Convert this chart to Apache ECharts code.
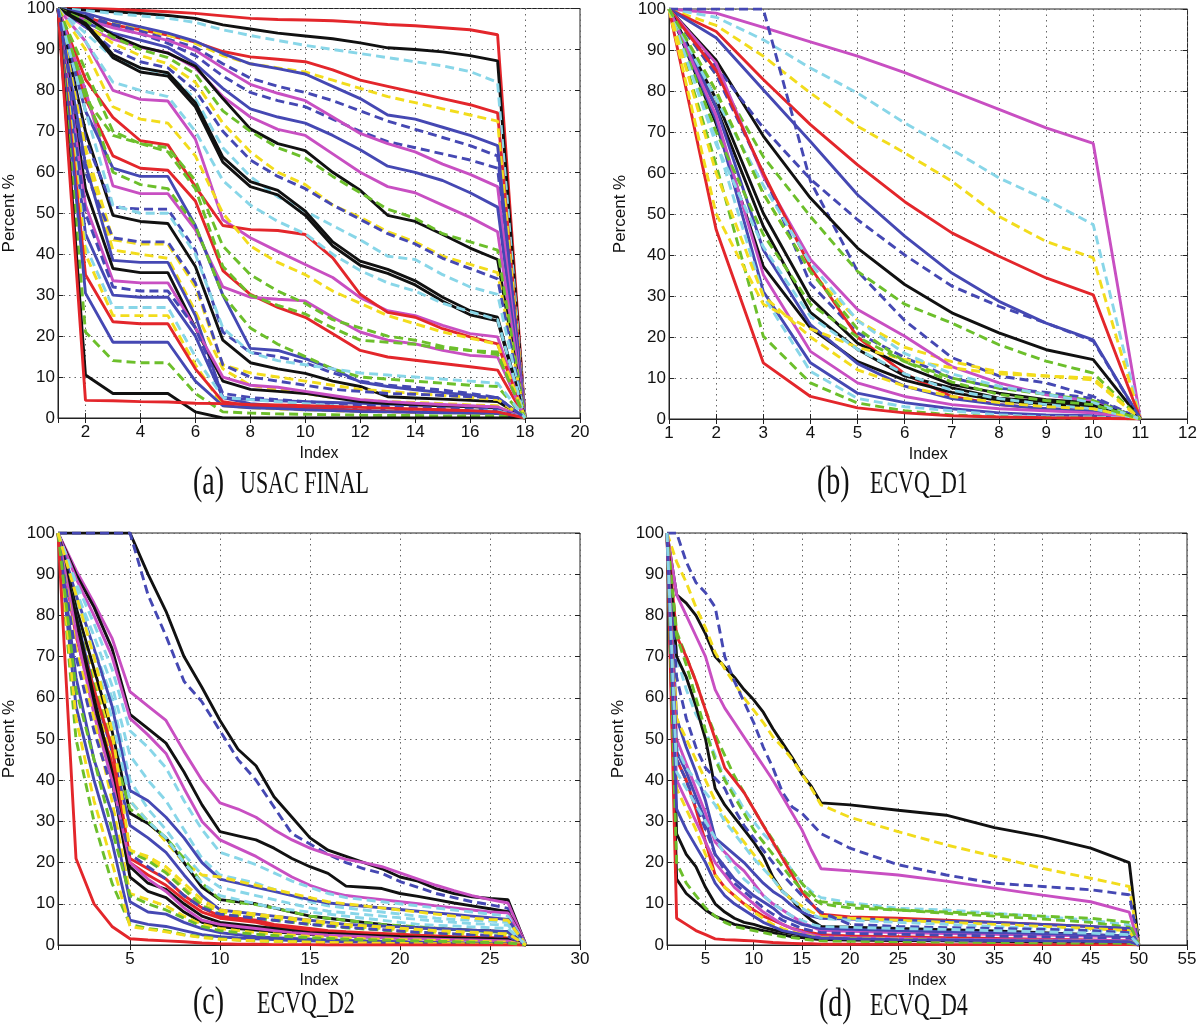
<!DOCTYPE html>
<html>
<head>
<meta charset="utf-8">
<script src="https://cdn.jsdelivr.net/npm/echarts@6/dist/echarts.min.js"></script>
<style>
  html, body { margin: 0; padding: 0; background: #fff; }
  #chart { width: 1200px; height: 1028px; }
</style>
</head>
<body>
<div id="chart"></div>
<script>
// (a) USAC FINAL, index 1..18
const usacIndex = [1,2,3,4,5,6,7,8,9,10,11,12,13,14,15,16,17,18];
const usacValues = [
  [100,100,99.8,99.5,99.2,98.8,98.2,97.6,97.3,97.2,97,96.6,96.1,95.8,95.3,94.8,93.6,0],
  [100,99.6,99.2,98.8,98.3,97.6,96,95,94,93.3,92.6,91.6,90.4,90,89.4,88.5,87.2,0],
  [100,99.5,98.8,98.2,97.6,96.6,94.8,93.4,92.2,91,90,89,88,87,86,84.6,82,0],
  [100,97.8,96,94.8,93.5,91.8,89.5,88.2,87.6,87,85,82.5,81,79.5,78,76.5,74.5,0],
  [100,98.5,96.5,95,93.5,91.5,88.5,86.5,85.5,84.5,82.5,80.5,78.5,77,75.5,74,72.5,0],
  [100,98.8,97,95.5,94,92,89,86.5,85.3,84,81,78,74,73,71,69,66.5,0],
  [100,98.2,96.2,94.5,92.5,90.5,86.5,83,81,79.5,77.5,75,72.5,70.5,68.5,66.5,64,0],
  [100,97.5,95.5,93.8,91.5,88.5,83.5,79.5,77.5,76,73,70,67.5,66,64.5,63,61,0],
  [100,97.2,95.3,93.8,92.2,89.8,85.5,81.5,79.3,77.5,73.5,69.5,67,65,62,59.5,56.5,0],
  [100,96.5,94,92.3,90.5,86.5,80.5,75.5,73.5,72,69,65.5,61.5,60,58,55,51.5,0],
  [100,95.5,92.5,90.5,89.2,85.5,78.5,73.5,70.5,69,64.5,60,56.5,55,52,49,45.5,0],
  [100,98,93.5,90.7,89.1,85.9,78,70.6,67,65.3,60,55.6,49.5,48,44.8,41.5,38.7,0],
  [100,97,93,90,88,84,75,70,66,63.5,59,55,51,48.8,45,43,41,0],
  [100,96,91.5,88.5,86.5,82,72,65,60,57,52,49,45.5,43,39.5,37.5,35.5,0],
  [100,95.5,90,87,85.5,80,70,63,59,56,52,48.5,45,42.5,39,36.5,34,0],
  [100,94,88,85.5,84,78,66,59,54,50.5,47,43.5,39.5,38.7,35,32,30.2,0],
  [100,96.4,88.7,85.5,84.3,77,63.7,57.7,55.6,50.5,43,38.3,36.3,33.5,29.5,26.2,24.6,0],
  [100,96,88,84.5,83.5,76,62.5,56.5,54.5,49.5,42,37.3,35.3,32.5,28.5,25.2,23.7,0],
  [100,92,80,77.8,77.4,68.1,48.4,44,40.7,37.5,34.3,29.4,26.2,25,22.6,20.6,19.8,0],
  [100,82.7,73.4,67.7,66.7,56.5,47,46,45.8,44.8,39.1,30.2,25.8,24.6,21.8,19.8,18.1,0],
  [100,78,64,61,60.5,53,36,30.2,27,24.6,20.6,16.5,14.9,14.1,13.3,12.5,11.7,0],
  [100,80,56.7,54.8,54.8,46,32,29.5,29,28.6,24.6,21,19,18.1,16.5,15.3,14.9,0],
  [100,78,69,67,65,56,37,30,27.5,25.4,22,19,18.5,18,17,16.5,16.1,0],
  [100,75,61,59,59,47,30,17,16.5,14.5,12,8.8,7.7,6.9,6.2,5.6,4.8,0],
  [100,70,49.5,48,47.5,37,19,13.5,12,10.9,9,7.7,5.2,4.9,4.6,4.3,4,0],
  [100,68,51.5,51,51,41,21,16,15,13.5,11,9,8,7.5,6.8,6,5,0],
  [100,66,43.5,42.5,42.5,32,13,11,10,9,8,7,6.5,6,5.5,5,4.5,0],
  [100,64,41,40,39,26,12,8,7,6,5,4.5,4,3.8,3.5,3.2,3,0],
  [100,62,38.5,38,38,25,5,4.5,4.2,4,3.8,3.6,3.4,3.2,3,2.8,2.6,0],
  [100,56,36.5,35.5,35.5,22,9,7,6.5,6,5,4,3.5,3.2,3,2.8,2.5,0],
  [100,52,33.5,33,33,22,10,8,7.5,6.5,5.5,4.5,4,3.6,3.3,3,2.7,0],
  [100,50,32,31,31,22,6,5,4.5,4,3.5,3,2.8,2.6,2.4,2.2,2,0],
  [100,45,30,29.5,29.5,20,5,3.5,3,2.8,2.5,2.2,2,1.9,1.8,1.7,1.6,0],
  [100,42,27,27,27,15,5,4.5,4,3.5,3,2.5,2.2,2,1.9,1.8,1.7,0],
  [100,40,25,25,25,13,3,2.5,2.2,2,1.8,1.6,1.5,1.4,1.3,1.2,1.1,0],
  [100,35,23.5,23,23,12,4,3,2.6,2.3,2,1.8,1.6,1.5,1.4,1.3,1.2,0],
  [100,30.5,18.5,18.5,18.5,9,3,2.5,2.3,2,1.8,1.6,1.5,1.4,1.3,1.2,1.1,0],
  [100,21,14,13.5,13.5,6,1.5,1.2,1,0.9,0.8,0.7,0.6,0.6,0.5,0.5,0.5,0],
  [100,10.5,6,6,6,1.5,0,0,0,0,0,0,0,0,0,0,0,0],
  [100,4.3,4.2,4,3.9,3.6,3.5,3.3,3.2,3,2.8,2.6,2.4,2.2,2,1.8,1.5,0],
  [100,92,82,80,78.5,70,58,52,48,45,40,36,33,31,28,26,24,0],
  [100,90,76,73,72,64,50,42,38,35,31,28,25,23,21,19.5,18,0],
  [100,85,70,67,66,58,42,35,31,28,24,22,20,19,17.5,16.5,15.5,0],
  [100,80,60,57,56,47,30,22,18,15,12,10,9.5,9,8.5,8,7.7,0],
  [100,75,52,50,50,40,22,16,14,13,12,11,10.5,10,9.5,9,8.5,0],
  [100,60,44,43,43,33,13,10,9,8,7,6.5,6,5.8,5.5,5.2,5,0]
];
const usacKinds = ['r','k','c','r','y','b','d','d','m','b','m','k','g','y','d','c','k','k','m','r','r','m','g','b','k','d','y','y','b','k','m','d','b','c','y','r','b','g','k','r','c','y','g','g','c','d'];

// (b) ECVQ_D1, index 1..11
const ecvqD1Index = [1,2,3,4,5,6,7,8,9,10,11];
const ecvqD1Values = [
  [100,99,95.5,92,88.5,84.5,80,75.5,71,67.2,0],
  [100,98,92.5,85.6,79.5,72.2,65.7,58.8,53.5,47.4,0],
  [100,96,88.5,79.5,71.4,64.9,58,49.4,43.3,39.3,0],
  [100,94.5,82.8,71.8,62,53,45.4,39.7,34.4,30.3,0],
  [100,93,80.3,67.7,54.7,44.6,35.6,28.7,23.4,19.3,0],
  [100,100,100,58,36,24,15,10.5,8.8,5.5,0],
  [100,87.5,69,53.9,41.7,32.8,25.9,21,16.9,14.5,0],
  [100,86,71,58.5,48.6,40,32.4,27.5,23.4,19,0],
  [100,84,64,49.4,36,28,23.4,18.1,14.1,11.2,0],
  [100,80,55,36,24,17.5,14,11.5,10.5,9.5,0],
  [100,86.8,59.2,38.9,26.7,20.2,12.8,8.8,5.9,4.3,0],
  [100,84,60,33,21,15,10,7.5,6.5,5,0],
  [100,85,60,37,20,11,5.5,3.5,2.5,2,0],
  [100,78,50.2,29.5,18.5,12.8,8.4,6.3,4.7,3.9,0],
  [100,76,47,26,17,10.5,7.6,5.1,4.2,3.5,0],
  [100,72,37.2,22.2,14,9.5,6.5,4.5,3.5,3,0],
  [100,76,41.3,23,13.5,8,5,3.5,2.5,2,0],
  [100,73,31.1,13.7,6.3,4,2.5,1.5,1,0.8,0],
  [100,74,35.2,16.5,8.8,5.5,3.5,2.5,2,1.5,0],
  [100,68,30,11.6,5,3,2,1,0.5,0.5,0],
  [100,62,20.2,8.8,3.9,2,1,0.5,0.3,0.2,0],
  [100,46.2,13.7,5.5,2.7,1.5,0.8,0.5,0.3,0.2,0],
  [100,50,28,22,17.5,14.5,12.5,11,10.5,10,0],
  [100,70,45,28,20,14,10,7.5,6,4.5,0],
  [100,67,42,25,17,11,7,5,3.5,2.5,0],
  [100,60,30,20,12,8,5.5,4,3,2.5,0],
  [100,78,57,38,24,16,11,8,6,4,0],
  [100,80,55,36,22,14,9,6,4.5,3.5,0]
];
const ecvqD1Kinds = ['m','c','y','r','b','d','k','d','g','y','m','d','r','k','k','k','b','b','m','c','g','r','y','g','c','y','c','g'];

// (c) ECVQ_D2, index 1..27
const ecvqD2Index = [1,2,3,4,5,6,7,8,9,10,11,12,13,14,15,16,17,18,19,20,21,22,23,24,25,26,27];
const ecvqD2Values = [
  [100,100,100,100,100,90,81,70,62.5,54.5,47.5,43.5,36,31,26,23,21.5,20,18.5,16.5,15.5,13.7,12.5,11.7,11.3,11,0],
  [100,100,100,100,100,85,75,64,59,52,45,40,33.5,27,24.5,22,20,18.5,17.4,15.4,14,12.5,11.5,10.5,9.8,8.9,0],
  [100,91,83,74.5,61.5,58,54.5,47,40,34.5,33,31,28,25.5,23.5,22,20.8,20,19,17.5,16,14.5,13.2,12,11,10.2,0],
  [100,90,82,72,56,52.5,49,42,34,27.5,26.5,25.5,23.5,21,19,17.4,14.3,14,13.7,12.5,11.8,11,10.2,9.5,8.8,8.1,0],
  [100,89,80,70,55,51,46.5,38,30,25.5,23.5,21.5,19,16.5,14.5,13,12,11.5,11,10.5,10,9.5,9,8.5,8,7.8,0],
  [100,88,78,67,52,48,43,35,28,22.5,21,19.5,17.5,15.5,14,12.5,11.5,11,10.5,10,9.5,9,8.5,8,7.5,7,0],
  [100,86,75,63,46,40,35,28,21,17,16,15,13.5,12,10.5,9.5,9,8.5,8,7.5,7,6.5,6.2,6,5.8,5.5,0],
  [100,84,72,60,40,33,28,22,17,14,13,12,11,10,9,8.2,7.8,7.4,7,6.6,6.2,5.8,5.5,5.2,5,4.8,0],
  [100,85,72,58,37.5,35,31,26,20,16,15,14,13,12,11,10.2,9.8,9.4,9,8.6,8.2,7.8,7.4,7,6.6,6.2,0],
  [100,80,65,50,35,30,25,20,17,16.5,15.5,14.5,13.5,12.5,11.5,10.5,10,9.5,9,8.5,8,7.5,7,6.5,6.2,6,0],
  [100,82,67,52,32,29.5,26,20,14,11,10.5,10,9,8,7,6.5,6,5.5,5,4.5,4.2,4,3.8,3.6,3.4,3.2,0],
  [100,80,63,48,33,30,26,21,15,11,10.3,9.8,9,8,7,6.5,6,5.5,5,4.7,4.4,4.1,3.8,3.5,3.2,3,0],
  [100,80,62,47,29,26,22.5,17,12,8.5,8,7.5,7,6.5,6,5.5,5,4.8,4.6,4.4,4.2,4,3.8,3.6,3.4,3.2,0],
  [100,78,60,45,23,21,18,14,10,8,7.5,7,6.5,6,5.5,5,4.6,4.3,4,3.7,3.4,3.1,2.8,2.6,2.4,2.2,0],
  [100,77,58,44,22.5,20.5,17.5,13.5,9.5,7.5,7,6.5,6,5.5,5,4.6,4.2,3.9,3.6,3.3,3,2.8,2.6,2.4,2.2,2,0],
  [100,78,62,48,21,18.5,16,12,9,7,6.5,6,5,4.5,4,3.5,3.2,3,2.8,2.6,2.4,2.2,2,1.9,1.8,1.7,0],
  [100,75,58,44,20,17,14.5,11,8,6.5,6,5.5,4.5,4,3.5,3,2.8,2.6,2.4,2.2,2,1.9,1.8,1.7,1.6,1.5,0],
  [100,80,60,42,19,15,13.5,10,7,5.5,5,4.5,4,3.5,3,2.8,2.6,2.4,2.2,2,1.9,1.8,1.7,1.6,1.5,1.4,0],
  [100,77,58,40,16.5,13,11.5,8,5.5,4.5,4,3.6,3.2,2.9,2.6,2.4,2.2,2,1.8,1.7,1.6,1.5,1.4,1.3,1.2,1.1,0],
  [100,76,56,40,20,16,13,9,6,5,4.5,4,3.5,3,2.7,2.4,2.2,2,1.8,1.6,1.5,1.4,1.3,1.2,1.1,1,0],
  [100,72,55,35,12.5,11,9.5,7,5,4,3.5,3,2.7,2.4,2.1,1.9,1.7,1.5,1.4,1.3,1.2,1.1,1,0.9,0.8,0.7,0],
  [100,65,45,32,10.5,8,7.5,5.5,4,3,2.5,2,1.8,1.6,1.4,1.2,1.1,1,0.9,0.8,0.7,0.6,0.5,0.5,0.4,0.4,0],
  [100,58,40,25,6,5,4.5,3.5,2.5,2,1.7,1.5,1.3,1.1,1,0.9,0.8,0.7,0.6,0.5,0.5,0.4,0.4,0.3,0.3,0.3,0],
  [100,50,30,15,5,4,3.5,2.5,2,1.5,1.2,1,0.9,0.8,0.7,0.6,0.5,0.5,0.4,0.4,0.3,0.3,0.3,0.2,0.2,0.2,0],
  [100,55,35,20,4.5,3.8,3.2,2.4,1.8,1.4,1.2,1,0.9,0.8,0.7,0.6,0.5,0.5,0.4,0.4,0.3,0.3,0.3,0.2,0.2,0.2,0],
  [100,21,10,4.5,1.5,1.2,1,0.8,0.5,0.3,0.2,0.2,0.1,0.1,0.1,0,0,0,0,0,0,0,0,0,0,0,0],
  [100,70,52,38,22,19,16,12,9,7.5,7,6.5,6,5.5,5,4.6,4.3,4,3.7,3.4,3.1,2.9,2.7,2.5,2.3,2.1,0],
  [100,62,45,28,12,10,8.5,6.5,4.5,3.5,3,2.6,2.3,2,1.8,1.6,1.4,1.3,1.2,1.1,1,0.9,0.8,0.7,0.6,0.5,0],
  [100,87,70,55,35,30,26,20,15,12,11,10,9,8.5,8,7.5,7,6.5,6,5.5,5,4.8,4.6,4.4,4.2,4,0],
  [100,85,70,52,23,21.5,19,15,11,8.5,8,7.5,7,6.5,6,5.5,5,4.7,4.4,4.1,3.8,3.5,3.3,3.1,2.9,2.7,0]
];
const ecvqD2Kinds = ['k','d','m','k','m','c','c','c','b','y','k','g','b','y','g','r','r','k','k','m','y','b','b','g','y','r','d','g','c','y'];

// (d) ECVQ_D4, values read at these indices (1..50)
const ecvqD4Index = [1,2,3,4,5,6,7,8,9,10,11,12,13,14,15,16,17,20,25,30,35,40,45,49,50];
const ecvqD4Values = [
  [100,85,83,80,75.5,70,67.5,65,62,59.5,56.5,52.5,49,45.5,41.5,38.5,34.5,34,32.7,31.5,28.5,26.3,23.5,20,0],
  [100,93,88,82,77,71,67,63.5,60,57,54,50.5,48,45,41.5,38,34,31,27.5,24.3,21.5,18.6,16.2,14.2,0],
  [100,100,93,88,85.5,82,70,64,59,54,48,43,37,33.5,32,29.5,27,23.5,19.5,17,15,14.2,13.4,12.2,0],
  [100,85,80,75,70,62,57.5,54,50.5,47,43.5,40,36,32,28,23,18.5,18,17,15.5,13.8,12.1,10.5,8,0],
  [100,70,62,56,52,46,40.5,37,33,30,27,24.5,21.5,18,15,13,11.5,10.3,8.9,8.5,7.7,6.9,6,4.9,0],
  [100,76,70,64,57,51,46,41,37,33,29,25.5,21.5,18,15,12.5,10.5,9.8,8.5,7.7,7,6.3,5.5,4.3,0],
  [100,75,70,64,57,50,43,40,37,33,29,25,21,17,13,10,7.5,6.8,6.5,6,5.5,5,4.5,3.5,0],
  [100,70,65,58,50,38,34,31,28,25,21.5,16.5,13,11,8,6,4.5,4.3,4,3.7,3.4,3,2.5,2,0],
  [100,55,48,42,35,26,24,22,20,17.5,15,13,11.5,9.5,8,7,6.5,6.3,6,5.8,5.5,5,4.5,4,0],
  [100,50,44,38,32,25,22.5,20,18,15,12,10,8.5,7,5.5,4.5,3.5,3.3,3,2.8,2.6,2.4,2.2,2,0],
  [100,47,42,36,30,22,19,16,14,12,10.5,9,7,6,5,4.5,4,3.8,3.5,3.2,3,2.8,2.5,2.2,0],
  [100,27,22,19,14,10,8,6.5,5.5,5,4.3,3.7,3.2,2.8,2.4,2,1.8,1.6,1.4,1.2,1,0.8,0.6,0.5,0],
  [100,16,12.5,10.5,8.5,7,6,5,4.5,4,3.5,3,2.5,2,1.8,1.5,1.3,1.2,1.1,1,0.9,0.8,0.7,0.6,0],
  [100,6.5,5,3.5,2.5,1.5,1.3,1.2,1.1,1,0.8,0.6,0.5,0.4,0.3,0.3,0.2,0.2,0.2,0.1,0.1,0.1,0.1,0.1,0],
  [100,20,15,12,9,7,5.5,4.5,4,3.5,3,2.5,2,1.8,1.5,1.2,1,0.9,0.8,0.7,0.6,0.5,0.5,0.4,0],
  [100,55,50,45,40,35,31,28,25,22,19,16,13,11,9.5,8,7,6.5,6,5.5,5,4.5,4,3.5,0],
  [100,48,43,40,37,34,30,27,24,21,18.5,16,13,11,9,7.5,6.5,6,5.5,5,4.5,4,3.5,3,0],
  [100,65,55,48,43,40.5,38,33,29,26,23,20,17,14.5,12,10,8,5,4.5,4.2,4,3.8,3.5,3,0],
  [100,75,68,60,52,45,40,36,32,28,25,22,19,16,13.5,11.5,10,9,8.5,8,7.5,7,6.5,5.5,0],
  [100,45,40,33,25,17,14,12,10,8.5,7,6,5,4,3.5,3,2.5,2.2,2,1.8,1.6,1.4,1.2,1,0],
  [100,45,40,34,28,22,18,15,13,11,9,7.5,6,5,4,3.5,3,2.8,2.6,2.4,2.2,2,1.8,1.5,0],
  [100,40,35,30,25,20,17,14,12,10,8,6.5,5,4,3.2,2.5,2,1.8,1.6,1.4,1.3,1.2,1.1,1,0],
  [100,38,33,28,22,17,14,12,10,8,6.5,5,4,3.2,2.6,2.2,1.8,1.6,1.4,1.2,1.1,1,0.9,0.8,0],
  [100,33,28,24,20,15,12,10,8.5,7,5.5,4.5,3.5,3,2.5,2,1.7,1.5,1.3,1.2,1.1,1,0.9,0.8,0],
  [100,42,38,34,30,26,22,19,16,14,12,10,8.5,7,6,5,4.5,4.3,4,3.8,3.5,3.2,2.9,2.5,0]
];
const ecvqD4Kinds = ['k','y','d','m','c','g','r','k','b','m','b','k','k','r','g','y','c','d','g','r','d','m','y','b','c'];

// matlab-ish line styles
const dash = [9, 5];
const kindStyle = {
  r: { color: '#e3262b', type: 'solid' },
  k: { color: '#111111', type: 'solid' },
  b: { color: '#4548b3', type: 'solid' },
  m: { color: '#c84fc2', type: 'solid' },
  c: { color: '#88d6e8', type: dash },
  y: { color: '#f2dc1c', type: dash },
  g: { color: '#6cbf2b', type: dash },
  d: { color: '#4548b3', type: dash }
};

const sans = '"Liberation Sans", Arial, sans-serif';
const serif = '"Liberation Serif", "Times New Roman", serif';
const ink = '#111';

const panels = [
  { values: usacValues, kinds: usacKinds, index: usacIndex, xMax: 20, step: 2, split: 10, showMin: false,
    grid: { left: 55, top: 5, width: 525, height: 413 } },
  { values: ecvqD1Values, kinds: ecvqD1Kinds, index: ecvqD1Index, xMax: 12, step: 1, split: 11, showMin: true,
    grid: { left: 669, top: 9, width: 521, height: 410 } },
  { values: ecvqD2Values, kinds: ecvqD2Kinds, index: ecvqD2Index, xMax: 30, step: 5, split: 6, showMin: false,
    grid: { left: 54, top: 533, width: 526, height: 412 } },
  { values: ecvqD4Values, kinds: ecvqD4Kinds, index: ecvqD4Index, xMax: 55, step: 5, split: 11, showMin: false,
    grid: { left: 667, top: 533, width: 520, height: 412 } }
];

const grids = [], xAxes = [], yAxes = [], series = [];
const tick = { inside: true, length: 5, lineStyle: { color: '#222' } };

panels.forEach((p, i) => {
  grids.push(Object.assign({ show: true, borderColor: '#222', borderWidth: 1 }, p.grid));

  const xBase = { type: 'value', gridIndex: i, min: 1, max: p.xMax,
    splitNumber: p.split, minInterval: p.step, maxInterval: p.step };
  xAxes.push(Object.assign({}, xBase, {
    name: 'Index', nameLocation: 'middle', nameGap: 28,
    nameTextStyle: { fontSize: 16, fontFamily: sans, color: ink },
    axisLine: { lineStyle: { color: '#222' } },
    axisTick: tick,
    axisLabel: { fontSize: 17, fontFamily: sans, color: ink, margin: 6, showMinLabel: p.showMin },
    splitLine: { show: true, lineStyle: { color: '#666', width: 1, type: [1.5, 4] } }
  }));
  xAxes.push(Object.assign({}, xBase, {
    position: 'top', axisLine: { show: false }, axisLabel: { show: false },
    axisTick: tick, splitLine: { show: false }
  }));

  const yBase = { type: 'value', gridIndex: i, min: 0, max: 100, interval: 10 };
  yAxes.push(Object.assign({}, yBase, {
    name: 'Percent %', nameLocation: 'middle', nameGap: 40,
    nameTextStyle: { fontSize: 17, fontFamily: sans, color: ink },
    axisLine: { lineStyle: { color: '#222' } },
    axisTick: tick,
    axisLabel: { fontSize: 17, fontFamily: sans, color: ink, margin: 3 },
    splitLine: { show: true, lineStyle: { color: '#666', width: 1, type: [1.5, 4] } }
  }));
  yAxes.push(Object.assign({}, yBase, {
    position: 'right', axisLine: { show: false }, axisLabel: { show: false },
    axisTick: tick, splitLine: { show: false }
  }));

  p.values.forEach((row, k) => {
    const st = kindStyle[p.kinds[k]];
    series.push({
      type: 'line',
      xAxisIndex: i * 2,
      yAxisIndex: i * 2,
      data: row.map((v, j) => [p.index[j], v]),
      symbol: 'none',
      silent: true,
      lineStyle: { color: st.color, width: 2.9, type: st.type }
    });
  });
});

// sub-figure captions
const captions = [
  { tag: '(a)', label: 'USAC FINAL', x: 193, lx: 240, y: 485 },
  { tag: '(b)', label: 'ECVQ_D1', x: 817, lx: 870, y: 485 },
  { tag: '(c)', label: 'ECVQ_D2', x: 193, lx: 257, y: 1005 },
  { tag: '(d)', label: 'ECVQ_D4', x: 819, lx: 870, y: 1007 }
];
const graphic = [];
captions.forEach(c => {
  graphic.push({ type: 'text', x: c.x, y: c.y - 1, scaleY: 1.4,
    style: { text: c.tag, font: '28px ' + serif, fill: ink, align: 'left', verticalAlign: 'middle' } });
  graphic.push({ type: 'text', x: c.lx, y: c.y, scaleY: 1.4,
    style: { text: c.label, font: '22px ' + serif, fill: ink, align: 'left', verticalAlign: 'middle' } });
});

const chart = echarts.init(document.getElementById('chart'));
chart.setOption({
  animation: false,
  backgroundColor: '#fff',
  grid: grids,
  xAxis: xAxes,
  yAxis: yAxes,
  series: series,
  graphic: graphic
});
</script>
</body>
</html>
